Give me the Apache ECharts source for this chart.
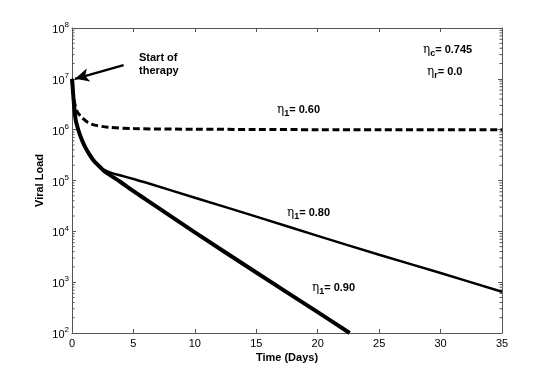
<!DOCTYPE html>
<html>
<head>
<meta charset="utf-8">
<script src="https://cdn.jsdelivr.net/npm/echarts@6/dist/echarts.min.js"></script>
<style>
  html, body { margin: 0; padding: 0; background: #fff; }
  #main { width: 554px; height: 375px; }
</style>
</head>
<body>
<div id="main"></div>
<script>
// 数据：时间（天）与病毒载量
const days60 = [0, 0.1, 0.22, 0.4, 0.76, 1.3, 1.84, 2.93, 5, 10, 15, 20, 25, 30, 35];
const load60 = [1e7, 5.25e6, 3.3e6, 2.3e6, 1.78e6, 1.38e6, 1.23e6, 1.12e6, 1.05e6, 1.02e6, 1.01e6, 1.0e6, 1.0e6, 1.0e6, 1.0e6];

const days80 = [0, 0.05, 0.12, 0.2, 0.3, 0.45, 0.6, 0.8, 1.06, 1.4, 1.74, 2.0, 2.3, 2.6, 3.2, 3.9, 5, 6, 10, 15, 20, 25, 30, 35];
const load80 = [1e7, 7.08e6, 4.17e6, 2.51e6, 1.55e6, 1.12e6, 8.51e5, 6.31e5, 4.57e5, 3.31e5, 2.51e5, 2.14e5, 1.82e5, 1.62e5, 1.41e5, 1.27e5, 1.07e5, 9.12e4, 4.57e4, 1.95e4, 8.13e3, 3.47e3, 1.51e3, 646];

const days90 = [0, 0.05, 0.12, 0.2, 0.3, 0.45, 0.6, 0.8, 1.06, 1.4, 1.74, 2.0, 2.3, 2.6, 3.2, 3.9, 5, 6, 10, 15, 20, 22.6];
const load90 = [1e7, 7.08e6, 4.17e6, 2.51e6, 1.55e6, 1.12e6, 8.51e5, 6.31e5, 4.57e5, 3.31e5, 2.51e5, 2.14e5, 1.82e5, 1.55e5, 1.23e5, 9.55e4, 6.17e4, 4.27e4, 9.55e3, 1.55e3, 257, 100];

// 坐标轴刻度
const xTicks = [0, 5, 10, 15, 20, 25, 30, 35];
const yDecades = [1e2, 1e3, 1e4, 1e5, 1e6, 1e7];
const minorMult = [2, 3, 4, 5, 6, 7, 8, 9];

// 箭头 "Start of therapy"
const arrowFrom = [4.2, 1.86e7];
const arrowTo = [0.25, 1.0e7];

function zip(xs, ys) {
    return xs.map((x, i) => [x, ys[i]]);
}

let minorTicks = [];
yDecades.forEach(d => {
    minorMult.forEach(m => minorTicks.push([0, d * m]));
});

const axisColor = '#555';
const font = 'Liberation Sans, Arial, sans-serif';

let myChart = echarts.init(document.getElementById('main'));

let labelRich = {
    b: { fontSize: 11, fontFamily: font, color: '#000', padding: [4, 0, 0, 0] },
    s: { fontSize: 8, fontFamily: font, color: '#000', padding: [0, 0, 6, 0] }
};

let etaRich = {
    e: { fontSize: 12, fontFamily: 'DejaVu Serif, serif', color: '#000' },
    s: { fontSize: 9, fontWeight: 'bold', fontFamily: font, color: '#000', padding: [8, 0, 0, 0] },
    b: { fontSize: 11, fontWeight: 'bold', fontFamily: font, color: '#000' }
};

function etaText(x, y, sub, val) {
    return {
        type: 'text',
        left: x,
        top: y,
        style: {
            text: '{e|η}{s|' + sub + '}{b|= ' + val + '}',
            rich: etaRich
        }
    };
}

let option = {
    animation: false,
    grid: { left: 72, right: 52, top: 28, bottom: 42 },
    xAxis: [
        {
            type: 'value',
            min: 0,
            max: 35,
            interval: 5,
            name: 'Time (Days)',
            nameLocation: 'middle',
            nameGap: 19,
            nameMoveOverlap: false,
            nameTextStyle: { fontSize: 11, fontWeight: 'bold', fontFamily: font, color: '#000' },
            axisLine: { onZero: false, lineStyle: { color: axisColor, width: 1 } },
            axisTick: { inside: true, length: 4, lineStyle: { color: axisColor } },
            axisLabel: { fontSize: 11, fontFamily: font, color: '#000', margin: 5 },
            splitLine: { show: false }
        },
        {
            type: 'value',
            position: 'top',
            min: 0,
            max: 35,
            interval: 5,
            axisLine: { onZero: false, lineStyle: { color: axisColor, width: 1 } },
            axisTick: { inside: true, length: 4, lineStyle: { color: axisColor } },
            axisLabel: { show: false },
            splitLine: { show: false }
        }
    ],
    yAxis: [
        {
            type: 'log',
            logBase: 10,
            min: 1e2,
            max: 1e8,
            name: 'Viral Load',
            nameLocation: 'middle',
            nameGap: 27,
            nameMoveOverlap: false,
            nameTextStyle: { fontSize: 11, fontWeight: 'bold', fontFamily: font, color: '#000' },
            axisLine: { onZero: false, lineStyle: { color: axisColor, width: 1 } },
            axisTick: { inside: true, length: 4, lineStyle: { color: axisColor } },
            axisLabel: {
                margin: 3,
                formatter: function (v) {
                    return '{b|10}{s|' + Math.round(Math.log10(v)) + '}';
                },
                rich: labelRich
            },
            splitLine: { show: false }
        },
        {
            type: 'log',
            logBase: 10,
            position: 'right',
            min: 1e2,
            max: 1e8,
            axisLine: { onZero: false, lineStyle: { color: axisColor, width: 1 } },
            axisTick: { inside: true, length: 4, lineStyle: { color: axisColor } },
            axisLabel: { show: false },
            splitLine: { show: false }
        }
    ],
    series: [
        {
            // 对数轴的次刻度
            type: 'custom',
            silent: true,
            data: minorTicks,
            renderItem: function (params, api) {
                let pl = api.coord([0, api.value(1)]);
                let pr = api.coord([35, api.value(1)]);
                let st = { stroke: axisColor, lineWidth: 1 };
                return {
                    type: 'group',
                    children: [
                        { type: 'line', shape: { x1: pl[0], y1: pl[1], x2: pl[0] + 2.5, y2: pl[1] }, style: st },
                        { type: 'line', shape: { x1: pr[0] - 2.5, y1: pr[1], x2: pr[0], y2: pr[1] }, style: st }
                    ]
                };
            },
            z: 1
        },
        {
            name: '0.60',
            type: 'line',
            data: zip(days60, load60),
            smooth: 0.3,
            symbol: 'none',
            lineStyle: { color: '#000', width: 3, type: [7, 3.5] },
            markLine: {
                silent: true,
                symbol: ['none', 'arrow'],
                symbolSize: [10, 14],
                label: { show: false },
                lineStyle: { color: '#000', width: 2.5, type: 'solid' },
                data: [[{ coord: arrowFrom }, { coord: arrowTo }]]
            }
        },
        {
            name: '0.80',
            type: 'line',
            data: zip(days80, load80),
            smooth: 0.3,
            symbol: 'none',
            lineStyle: { color: '#000', width: 2.5 }
        },
        {
            name: '0.90',
            type: 'line',
            data: zip(days90, load90),
            smooth: 0.3,
            symbol: 'none',
            lineStyle: { color: '#000', width: 4 }
        }
    ],
    graphic: [
        {
            type: 'text',
            left: 139,
            top: 51,
            style: {
                text: 'Start of\ntherapy',
                fontSize: 11,
                fontWeight: 'bold',
                fontFamily: font,
                fill: '#000',
                lineHeight: 13
            }
        },
        etaText(423, 44, 'c', '0.745'),
        etaText(427, 66, 'r', '0.0'),
        etaText(277, 104, '1', '0.60'),
        etaText(287, 207, '1', '0.80'),
        etaText(312, 282, '1', '0.90')
    ]
};

myChart.setOption(option);
</script>
</body>
</html>
